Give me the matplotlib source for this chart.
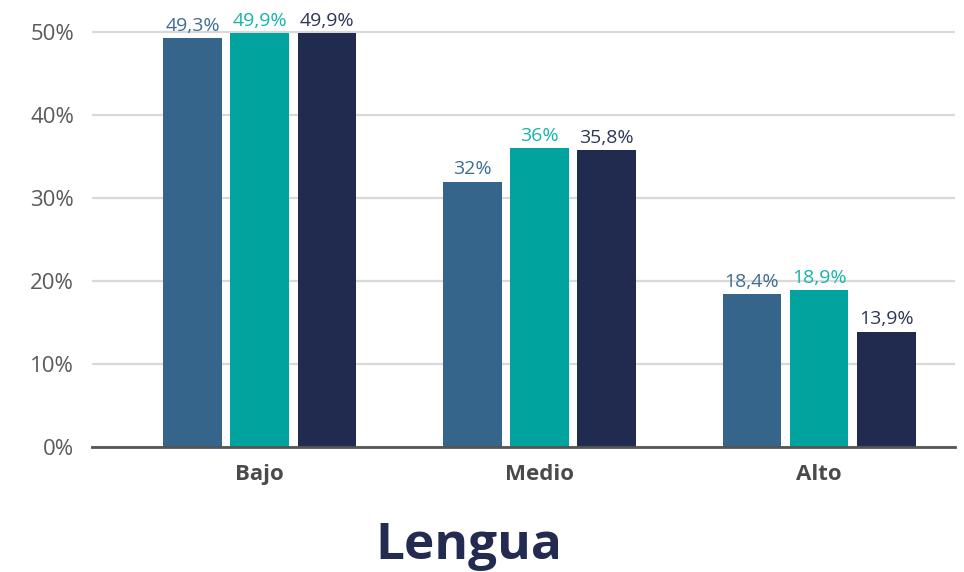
import numpy as np
import matplotlib.pyplot as plt

# data
categories = ['Bajo', 'Medio', 'Alto']
serie_a = [49.3, 32.0, 18.4]
serie_b = [49.9, 36.0, 18.9]
serie_c = [49.9, 35.8, 13.9]
yticks = [0, 10, 20, 30, 40, 50]

COLORS = ['#35658a', '#00a39e', '#212b50']
LABEL_COLORS = ['#3f6d93', '#18b3aa', '#2f3756']
TICK = '#5a5a5a'

plt.rcParams.update({'font.family': ['Open Sans', 'DejaVu Sans'], 'font.size': 11})


def fmt(v):
    if float(v).is_integer():
        return f'{int(v)}%'
    return f'{v:.1f}%'.replace('.', ',')


fig = plt.figure(figsize=(9.64, 5.72), dpi=100)
ax = fig.add_axes([0.0954, 0.2185, 0.8953, 0.7615])

x = np.arange(len(categories))
width, step = 0.21, 0.24
for i, vals in enumerate([serie_a, serie_b, serie_c]):
    pos = x + (i - 1) * step
    ax.bar(pos, vals, width=width, color=COLORS[i], zorder=3)
    for p, v in zip(pos, vals):
        ax.text(p, v + 0.4, fmt(v), ha='center', va='bottom',
                color=LABEL_COLORS[i], fontsize=14, zorder=4)

ax.set_xlim(-0.6, 2.486)
ax.set_ylim(0, 52.5)
ax.set_yticks(yticks)
ax.set_yticklabels([f'{t}%' for t in yticks], fontsize=16, color=TICK)
ax.set_xticks(x)
ax.set_xticklabels(categories, fontsize=16, fontweight='bold', color='#4a4a4a')
ax.tick_params(axis='y', length=0, pad=13)
ax.tick_params(axis='x', length=0, pad=12)
ax.grid(axis='y', color='#d9d9d9', lw=1.6, zorder=0)
for s in ['top', 'right', 'left']:
    ax.spines[s].set_visible(False)
ax.spines['bottom'].set_color('#555555')
ax.spines['bottom'].set_linewidth(2)
ax.spines['bottom'].set_zorder(5)

fig.text(0.486, 1 - 546 / 572, 'Lengua', ha='center', va='center',
         fontsize=37, fontweight='bold', color='#232b50')

fig.savefig('out.png', dpi=100, facecolor='white')
